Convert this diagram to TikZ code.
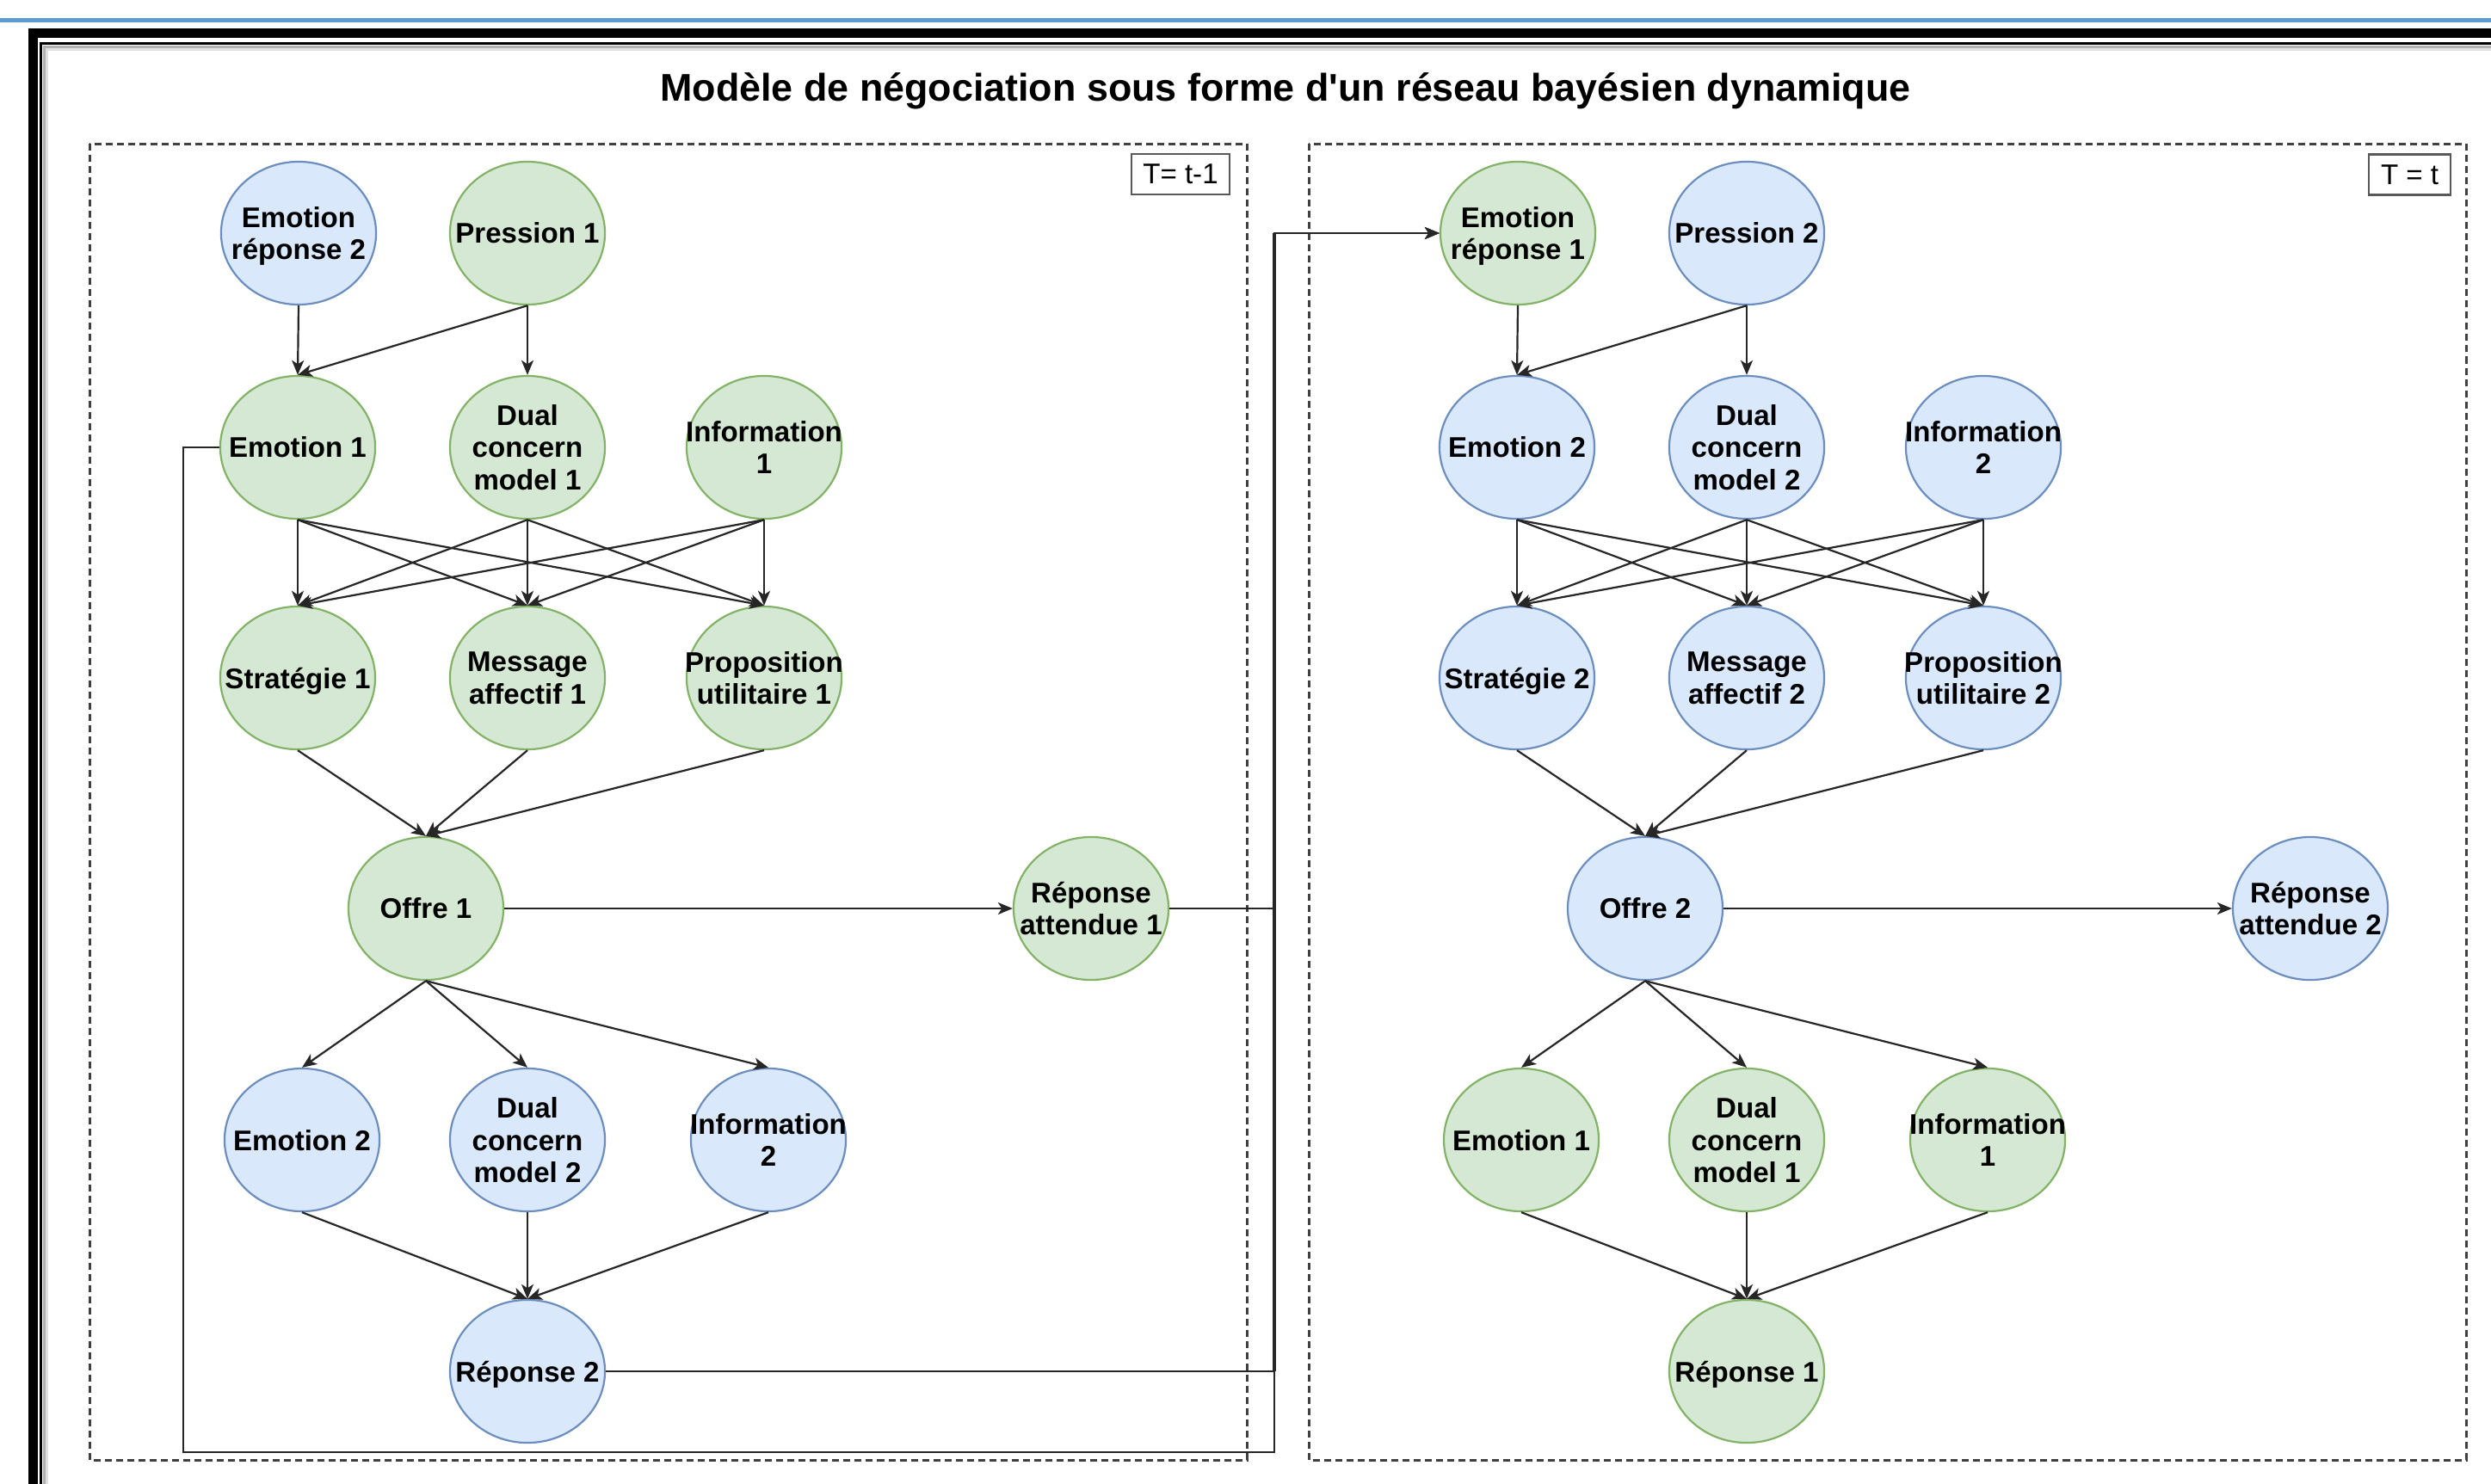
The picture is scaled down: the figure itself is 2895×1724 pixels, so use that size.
\documentclass[tikz,border=0pt]{standalone}
\usepackage{fontspec}
\setmainfont{Liberation Sans}
\usetikzlibrary{shapes.geometric,arrows.meta}
\definecolor{gfill}{HTML}{D5E8D4}
\definecolor{gdraw}{HTML}{82B366}
\definecolor{bfill}{HTML}{DAE8FC}
\definecolor{bdraw}{HTML}{6C8EBF}
\definecolor{topblue}{HTML}{5B9BD5}
\begin{document}
\begin{tikzpicture}[x=0.01cm,y=-0.01cm,
 nd/.style={ellipse, minimum width=1.8cm, minimum height=1.66cm, inner sep=0pt, line width=0.022cm},
 gn/.style={nd, draw=gdraw, fill=gfill},
 bn/.style={nd, draw=bdraw, fill=bfill},
 lbl/.style={align=center, font=\fontsize{9.4}{10.7}\selectfont\bfseries, inner sep=0pt, text=black, text depth=0pt},
 ar/.style={-{Stealth[length=0.17cm,width=0.14cm,inset=0.045cm]}, line width=0.022cm, draw=black!85},
 panel/.style={draw=black!75, line width=0.03cm, dash pattern=on 0.08cm off 0.05cm},
 tbox/.style={draw=black!65, line width=0.025cm, fill=white, inner sep=0pt, minimum height=0.47cm, font=\fontsize{9.4}{10.7}\selectfont}
]
\useasboundingbox (0,0) rectangle (2895,1724);
\clip (0,0) rectangle (2895,1724);
\fill[white] (0,0) rectangle (2895,1724);
% frame
\fill[topblue] (0,21) rectangle (2895,26);
\draw[line width=0.11cm] (38.5,1740) -- (38.5,38.5) -- (2910,38.5);
\draw[line width=0.03cm] (47.5,1740) -- (47.5,50.5) -- (2910,50.5);
\draw[black!30, line width=0.03cm] (51,1740) -- (51,54) -- (2910,54);
\draw[black!12, line width=0.03cm] (54,1740) -- (54,57) -- (2910,57);
% title
\node[font=\fontsize{12.75}{15}\selectfont\bfseries, anchor=base, inner sep=0pt] (title) at (1494,117) {Modèle de négociation sous forme d\textquotesingle un réseau bayésien dynamique};
% panels
\draw[panel] (104,167) rectangle (1449,1697);
\draw[panel] (1521,167) rectangle (2866,1697);
\node[tbox, minimum width=1.14cm] (tl1) at (1372,202.5) {T= t-1};
\node[tbox, minimum width=0.95cm] (tl2) at (2800.5,203) {T = t};
% left panel nodes
\node[bn, label={[lbl]center:{Emotion\\réponse 2}}] (er2) at (347,271) {};
\node[gn, label={[lbl]center:{Pression 1}}] (p1) at (613,271) {};
\node[gn, label={[lbl]center:{Emotion 1}}] (e1) at (346,520) {};
\node[gn, label={[lbl]center:{Dual\\concern\\model 1}}] (dc1) at (613,520) {};
\node[gn, label={[lbl]center:{Information\\1}}] (i1) at (888,520) {};
\node[gn, label={[lbl]center:{Stratégie 1}}] (s1) at (346,788) {};
\node[gn, label={[lbl]center:{Message\\affectif 1}}] (ma1) at (613,788) {};
\node[gn, label={[lbl]center:{Proposition\\utilitaire 1}}] (pu1) at (888,788) {};
\node[gn, label={[lbl]center:{Offre 1}}] (o1) at (495,1056) {};
\node[gn, label={[lbl]center:{Réponse\\attendue 1}}] (ra1) at (1268,1056) {};
\node[bn, label={[lbl]center:{Emotion 2}}] (e2b) at (351,1325) {};
\node[bn, label={[lbl]center:{Dual\\concern\\model 2}}] (dc2b) at (613,1325) {};
\node[bn, label={[lbl]center:{Information\\2}}] (i2b) at (893,1325) {};
\node[bn, label={[lbl]center:{Réponse 2}}] (r2) at (613,1594) {};
% right panel nodes
\node[gn, label={[lbl]center:{Emotion\\réponse 1}}] (er1) at (1764,271) {};
\node[bn, label={[lbl]center:{Pression 2}}] (p2) at (2030,271) {};
\node[bn, label={[lbl]center:{Emotion 2}}] (e2) at (1763,520) {};
\node[bn, label={[lbl]center:{Dual\\concern\\model 2}}] (dc2) at (2030,520) {};
\node[bn, label={[lbl]center:{Information\\2}}] (i2) at (2305,520) {};
\node[bn, label={[lbl]center:{Stratégie 2}}] (s2) at (1763,788) {};
\node[bn, label={[lbl]center:{Message\\affectif 2}}] (ma2) at (2030,788) {};
\node[bn, label={[lbl]center:{Proposition\\utilitaire 2}}] (pu2) at (2305,788) {};
\node[bn, label={[lbl]center:{Offre 2}}] (o2) at (1912,1056) {};
\node[bn, label={[lbl]center:{Réponse\\attendue 2}}] (ra2) at (2685,1056) {};
\node[gn, label={[lbl]center:{Emotion 1}}] (e1b) at (1768,1325) {};
\node[gn, label={[lbl]center:{Dual\\concern\\model 1}}] (dc1b) at (2030,1325) {};
\node[gn, label={[lbl]center:{Information\\1}}] (i1b) at (2310,1325) {};
\node[gn, label={[lbl]center:{Réponse 1}}] (r1) at (2030,1594) {};
% left edges
\draw[ar] (er2.south) -- (e1.north);
\draw[ar] (p1.south) -- (e1.north);
\draw[ar] (p1.south) -- (dc1.north);
\foreach \a in {e1,dc1,i1} \foreach \b in {s1,ma1,pu1} \draw[ar] (\a.south) -- (\b.north);
\foreach \a in {s1,ma1,pu1} \draw[ar] (\a.south) -- (o1.north);
\draw[ar] (o1.east) -- (ra1.west);
\foreach \b in {e2b,dc2b,i2b} \draw[ar] (o1.south) -- (\b.north);
\foreach \a in {e2b,dc2b,i2b} \draw[ar] (\a.south) -- (r2.north);
% right edges
\draw[ar] (er1.south) -- (e2.north);
\draw[ar] (p2.south) -- (e2.north);
\draw[ar] (p2.south) -- (dc2.north);
\foreach \a in {e2,dc2,i2} \foreach \b in {s2,ma2,pu2} \draw[ar] (\a.south) -- (\b.north);
\foreach \a in {s2,ma2,pu2} \draw[ar] (\a.south) -- (o2.north);
\draw[ar] (o2.east) -- (ra2.west);
\foreach \b in {e1b,dc1b,i1b} \draw[ar] (o2.south) -- (\b.north);
\foreach \a in {e1b,dc1b,i1b} \draw[ar] (\a.south) -- (r1.north);
% links between slices
\coordinate (bus) at (1481,271);
\coordinate (loopc) at (213,1688);
\coordinate (busb) at (1481,1594);
\draw[line width=0.04cm, black!85] (bus) -- (busb);
\draw[ar] (e1.west) -| (loopc) -| (bus) -- (er1.west);
\draw[ar] (ra1.east) -| (bus) -- (er1.west);
\draw[ar] (r2.east) -| (bus) -- (er1.west);
\end{tikzpicture}
\end{document}
